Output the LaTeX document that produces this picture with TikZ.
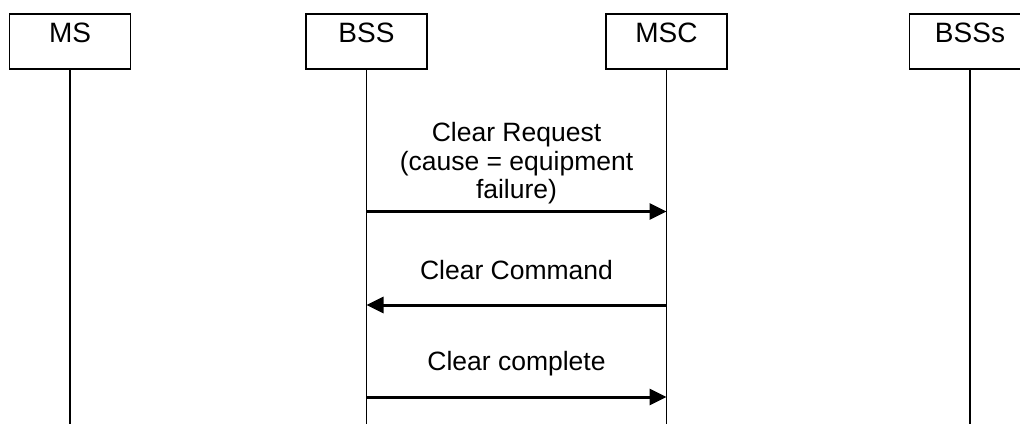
\documentclass[tikz,border=0pt]{standalone}
\usepackage{fontspec}
\setmainfont{Liberation Sans}
\usetikzlibrary{arrows.meta, positioning}

\begin{document}
\begin{tikzpicture}[
    x=1pt, y=-1pt,
    every node/.style={align=center, font=\fontsize{26.5}{28.5}\selectfont},
    entity/.style={rectangle, draw, line width=1.3pt, minimum width=121pt, minimum height=55pt, inner sep=0pt, font=\fontsize{28}{30}\selectfont, text height=20pt, text depth=17.6pt},
    lifeline/.style={line width=1.2pt},
    msg/.style={-{Triangle[length=17pt, width=16pt]}, line width=3pt},
    msglabel/.style={inner sep=0pt}
]
\clip (0,0) rectangle (1020,423);

% Entities
\node[entity] (ms) at (70, 41.5) {MS};
\node[entity] (bss) at (366.5, 41.5) {BSS};
\node[entity] (msc) at (666.5, 41.5) {MSC};
\node[entity] (bsss) at (970, 41.5) {BSSs};

% Lifelines
\coordinate (msend) at (70, 425);
\coordinate (bssend) at (366.5, 425);
\coordinate (mscend) at (666.5, 425);
\coordinate (bsssend) at (970, 425);
\draw[lifeline] (ms) -- (msend);
\draw[lifeline] (bss) -- (bssend);
\draw[lifeline] (msc) -- (mscend);
\draw[lifeline] (bsss) -- (bsssend);

% Messages
\coordinate (bss1) at (366.5, 211.5);
\coordinate (msc1) at (666.5, 211.5);
\coordinate (bss2) at (366.5, 305);
\coordinate (msc2) at (666.5, 305);
\coordinate (bss3) at (366.5, 397);
\coordinate (msc3) at (666.5, 397);

\draw[msg] (bss1) -- node[msglabel, above=6pt] {Clear Request\\(cause = equipment\\failure)} (msc1);
\draw[msg] (msc2) -- node[msglabel, above=24pt] {Clear Command} (bss2);
\draw[msg] (bss3) -- node[msglabel, above=19.5pt] {Clear complete} (msc3);

\end{tikzpicture}
\end{document}
